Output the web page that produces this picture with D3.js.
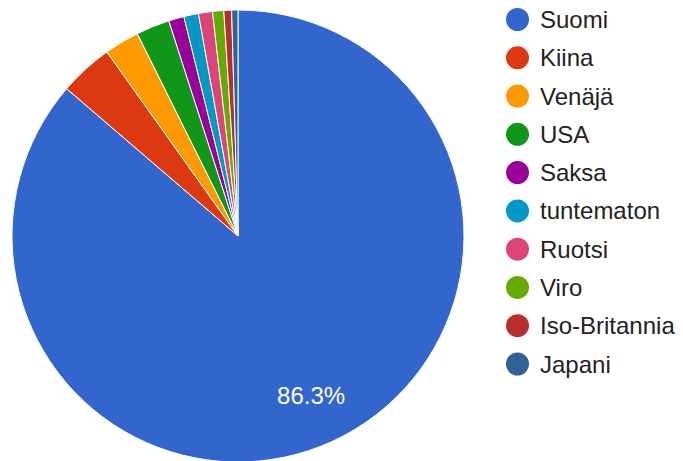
<!DOCTYPE html>
<html><head><meta charset="utf-8">
<script src="https://cdn.jsdelivr.net/npm/d3@7"></script>
<style>body{margin:0;background:#fff;}svg{display:block;font-family:"Liberation Sans",Arial,sans-serif;}</style>
</head><body>
<svg id="c" width="683" height="461"></svg>
<script>
const categories = ["Suomi","Kiina","Venäjä","USA","Saksa","tuntematon","Ruotsi","Viro","Iso-Britannia","Japani"];
const values = [86.3, 3.85, 2.5, 2.4, 1.1, 1.05, 1.0, 0.8, 0.55, 0.45];
const colors = ["#3366cc","#dc3912","#ff9900","#109618","#990099","#0099c6","#dd4477","#66aa00","#b82e2e","#316395"];

const svg = d3.select("#c");
const cx = 238, cy = 236, r = 226;
const data = categories.map((c,i)=>({name:c, value:values[i], color:colors[i]}));
const total = d3.sum(values);
const pie = d3.pie().value(d=>d.value).sort(null).startAngle(0).endAngle(2*Math.PI);
const arcs = pie(data);
const arc = d3.arc().innerRadius(0).outerRadius(r);
const g = svg.append("g").attr("transform",`translate(${cx},${cy})`);
g.selectAll("path").data(arcs).enter().append("path")
  .attr("d",arc).attr("fill",d=>d.data.color)
  .attr("stroke","#fff").attr("stroke-width",1);
const labelArc = d3.arc().innerRadius(r*0.775).outerRadius(r*0.775);
g.selectAll("text.lbl").data(arcs.filter(d=>d.data.value/total>0.05)).enter().append("text")
  .attr("class","lbl")
  .attr("transform",d=>`translate(${labelArc.centroid(d)})`)
  .attr("text-anchor","middle").attr("dy","0.36em")
  .attr("fill","#fff").attr("font-size",24)
  .text(d=>(d.data.value/total*100).toFixed(1)+"%");

const legend = svg.append("g");
const ly = d3.scalePoint().domain(categories).range([19.5,364]);
const items = legend.selectAll("g").data(data).enter().append("g")
  .attr("transform",d=>`translate(0,${ly(d.name)})`);
items.append("circle").attr("cx",517.5).attr("cy",0).attr("r",11.5).attr("fill",d=>d.color);
items.append("text").attr("x",540).attr("y",8.5).attr("font-size",24).attr("fill","#222")
  .text(d=>d.name);
</script>
</body></html>
